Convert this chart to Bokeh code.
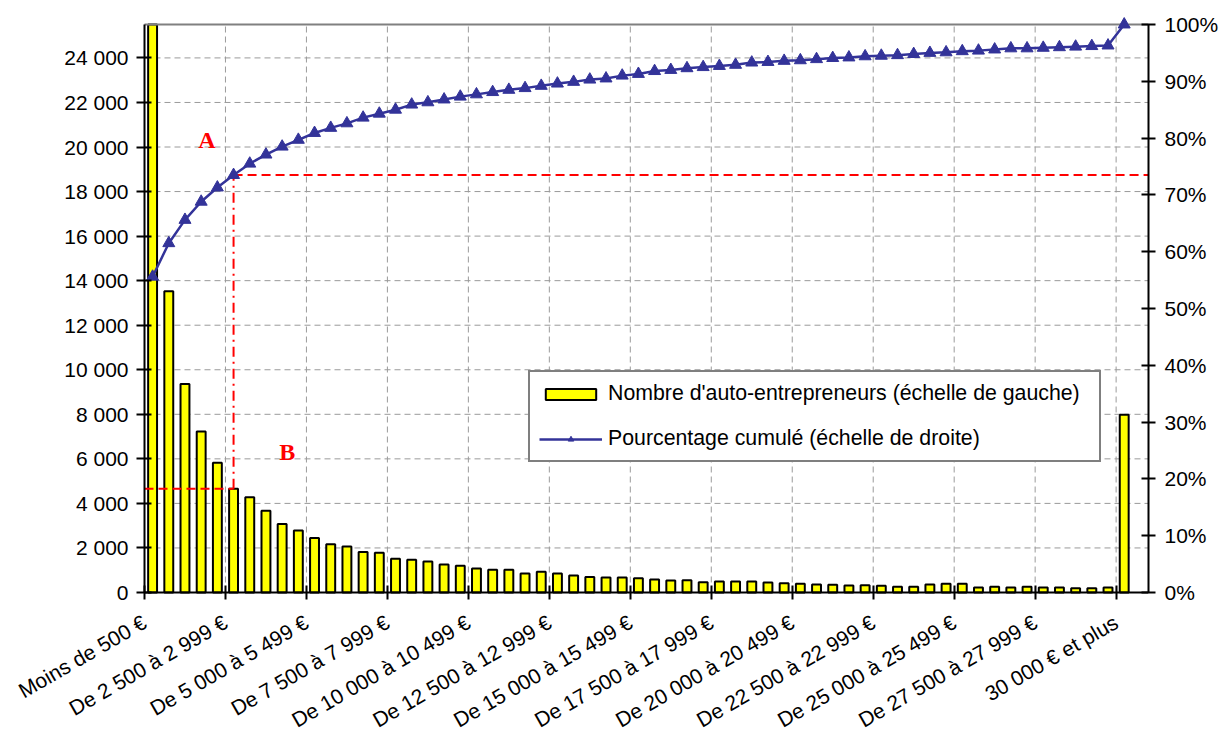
from math import radians
from bokeh.plotting import figure
from bokeh.models import (Range1d, LinearAxis, FixedTicker, Legend, LegendItem, Label)
from bokeh.embed import file_html
from bokeh.resources import INLINE

# ---------------- data ----------------
# Visible category labels (one every 5 categories, 61 categories in all)
tick_labels = ["Moins de 500 €", "De 2 500 à 2 999 €", "De 5 000 à 5 499 €",
               "De 7 500 à 7 999 €", "De 10 000 à 10 499 €", "De 12 500 à 12 999 €",
               "De 15 000 à 15 499 €", "De 17 500 à 17 999 €", "De 20 000 à 20 499 €",
               "De 22 500 à 22 999 €", "De 25 000 à 25 499 €", "De 27 500 à 27 999 €",
               "30 000 € et plus"]
label_step = 5
n_slots = 62  # 61 categories + one empty slot at the right end

# Nombre d'auto-entrepreneurs (first bar runs off the top of the axis)
counts = [125000, 13520, 9360, 7230, 5830, 4660, 4280, 3670, 3070, 2780,
          2450, 2170, 2060, 1820, 1780, 1520, 1470, 1390, 1260, 1200,
          1080, 1020, 1020, 850, 930, 850, 760, 700, 670, 670,
          640, 580, 540, 550, 460, 490, 490, 490, 450, 420,
          390, 360, 345, 315, 330, 300, 255, 255, 360, 390,
          390, 225, 255, 225, 255, 225, 225, 195, 195, 225,
          7980]

# Pourcentage cumulé (%)
cum_pct = [55.6, 61.5, 65.6, 68.8, 71.3, 73.5, 75.5, 77.1, 78.5, 79.7,
           80.9, 81.8, 82.6, 83.6, 84.3, 85.0, 85.9, 86.3, 86.8, 87.3,
           87.7, 88.1, 88.5, 88.8, 89.2, 89.6, 89.9, 90.3, 90.5, 91.0,
           91.3, 91.8, 92.0, 92.3, 92.5, 92.7, 92.9, 93.3, 93.4, 93.6,
           93.7, 93.9, 94.1, 94.2, 94.4, 94.5, 94.6, 94.8, 95.0, 95.1,
           95.3, 95.4, 95.6, 95.8, 95.8, 95.9, 96.0, 96.1, 96.2, 96.3,
           100.0]

left_ticks = list(range(0, 24001, 2000))
right_ticks = list(range(0, 101, 10))
Y_MAX = 25500
P_MAX = 100
marked_index = 5  # category highlighted by the red guide lines

# ---------------- layout constants (pixels) ----------------
W, H = 1221, 733
AREA_LEFT, AREA_RIGHT = 144, 1148   # plot area (axes) in page pixels
AREA_TOP, AXIS_Y = 24, 592
FRAME_TOP = 12                      # drawing frame starts a little higher
area_h = AXIS_Y - AREA_TOP
area_w = AREA_RIGHT - AREA_LEFT
# the drawing frame extends beyond the plot area so that labels/markers are not clipped
y_start = -(H - AXIS_Y) * Y_MAX / area_h
y_end = Y_MAX + (AREA_TOP - FRAME_TOP) * Y_MAX / area_h
p_start = -(H - AXIS_Y) * P_MAX / area_h
p_end = P_MAX + (AREA_TOP - FRAME_TOP) * P_MAX / area_h
x_start = -AREA_LEFT * n_slots / area_w

FONT = "Liberation Sans"
FS = "21px"
GRID = "#9a9a9a"
xs = [i + 0.5 for i in range(len(counts))]
bar_tops = [min(c, Y_MAX) for c in counts]   # bars are cut at the top of the axis

p = figure(width=W, height=H, output_backend="svg", toolbar_location=None,
           x_range=Range1d(x_start, n_slots), y_range=Range1d(y_start, y_end),
           min_border_left=0, min_border_right=W - AREA_RIGHT,
           min_border_top=FRAME_TOP, min_border_bottom=0,
           background_fill_color="white", border_fill_color="white")
p.extra_y_ranges = {"pct": Range1d(p_start, p_end)}
p.outline_line_color = None
p.xgrid.visible = False
p.ygrid.visible = False

boundaries = [i * label_step for i in range(len(tick_labels))]

# grid lines over the plot area only
vg = boundaries[1:]
p.segment(x0=vg, y0=[0] * len(vg), x1=vg, y1=[Y_MAX] * len(vg),
          line_color=GRID, line_dash="6 4", line_width=1)
hg = left_ticks[1:]
p.segment(x0=[0] * len(hg), y0=hg, x1=[n_slots] * len(hg), y1=hg,
          line_color=GRID, line_dash="6 4", line_width=1)

# x axis at y = 0, tick marks at every 5th category boundary
xa = p.xaxis[0]
xa.fixed_location = 0
xa.bounds = (0, n_slots)
xa.ticker = FixedTicker(ticks=boundaries)
xa.major_label_overrides = {b: lab for b, lab in zip(boundaries, tick_labels)}
xa.major_tick_in = 7
xa.major_tick_out = 7
xa.major_tick_line_color = "black"
xa.major_tick_line_width = 2
xa.minor_tick_line_color = None
xa.axis_line_width = 2
xa.axis_line_color = "black"
xa.major_label_orientation = radians(30)
xa.major_label_text_font = FONT
xa.major_label_text_font_size = FS
xa.major_label_text_color = "black"
xa.major_label_standoff = 21

# left axis at x = 0
ya = p.yaxis[0]
ya.fixed_location = 0
ya.bounds = (0, Y_MAX)
ya.ticker = FixedTicker(ticks=left_ticks)
ya.major_label_overrides = {v: f"{v:,}".replace(",", " ") for v in left_ticks}
ya.major_tick_in = 7
ya.major_tick_out = 8
ya.major_tick_line_width = 2
ya.minor_tick_line_color = None
ya.axis_line_width = 2
ya.axis_line_color = "black"
ya.major_label_text_font = FONT
ya.major_label_text_font_size = FS
ya.major_label_text_color = "black"
ya.major_label_standoff = 8

# right axis
ra = LinearAxis(y_range_name="pct", ticker=FixedTicker(ticks=right_ticks),
                bounds=(0, P_MAX))
ra.major_label_overrides = {v: f"{v}%" for v in right_ticks}
ra.major_tick_in = 7
ra.major_tick_out = 7
ra.major_tick_line_width = 2
ra.minor_tick_line_color = None
ra.axis_line_width = 2
ra.axis_line_color = "black"
ra.major_label_text_font = FONT
ra.major_label_text_font_size = FS
ra.major_label_text_color = "black"
ra.major_label_standoff = 9
p.add_layout(ra, "right")

# bars
bars = p.vbar(x=xs, top=bar_tops, bottom=0, width=0.55, fill_color="#FFFF00",
              line_color="black", line_width=2)

# top border of the plot area
p.segment(x0=[0], y0=[Y_MAX], x1=[n_slots], y1=[Y_MAX], line_color="#808080",
          line_width=2)

# red guide lines (drawn from the highlighted category's values)
xm = xs[marked_index]
p.line([0, xm], [counts[marked_index]] * 2, line_color="#FF0000", line_width=2,
       line_dash="9 5")
p.line([xm, xm], [counts[marked_index] / Y_MAX * P_MAX, cum_pct[marked_index]],
       y_range_name="pct", line_color="#FF0000", line_width=2, line_dash="10 5 2 5")
p.line([xm, n_slots], [cum_pct[marked_index]] * 2, y_range_name="pct",
       line_color="#FF0000", line_width=2, line_dash="9 5")

# cumulative percentage
cl = p.line(xs, cum_pct, y_range_name="pct", line_color="#333399", line_width=2.5)
cm = p.scatter(xs, cum_pct, y_range_name="pct", marker="triangle", size=12,
               fill_color="#333399", line_color="#333399")

# A / B annotations
p.add_layout(Label(x=3.86, y=79.6, y_range_name="pct", text="A", text_color="#FF0000",
                   text_font="Liberation Serif", text_font_style="bold",
                   text_font_size="24px", text_align="center", text_baseline="middle"))
p.add_layout(Label(x=8.82, y=6320, text="B", text_color="#FF0000",
                   text_font="Liberation Serif", text_font_style="bold",
                   text_font_size="24px", text_align="center", text_baseline="middle"))

legend = Legend(items=[
    LegendItem(label="Nombre d'auto-entrepreneurs (échelle de gauche)", renderers=[bars]),
    LegendItem(label="Pourcentage cumulé (échelle de droite)", renderers=[cl, cm]),
], location=(528, H - 462))
legend.border_line_color = "black"
legend.border_line_width = 2
legend.background_fill_color = "white"
legend.background_fill_alpha = 1
legend.label_text_font = FONT
legend.label_text_font_size = "21.3px"
legend.label_text_color = "black"
legend.padding = 9
legend.spacing = 20
legend.glyph_width = 63
legend.glyph_height = 14
legend.label_standoff = 6
legend.label_height = 20
legend.label_width = 482
legend.margin = 0
p.add_layout(legend)

open("out.html", "w").write(file_html(p, INLINE))
